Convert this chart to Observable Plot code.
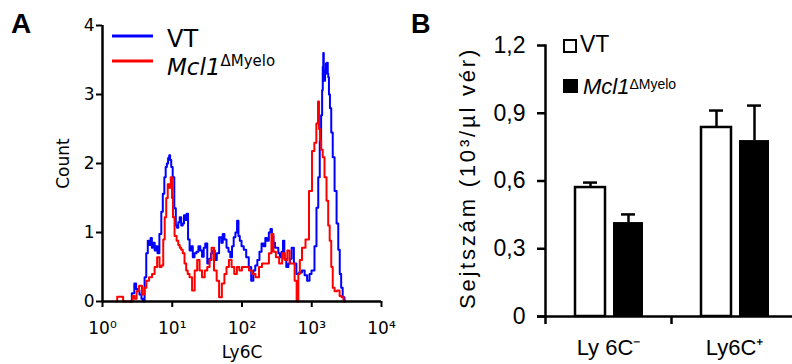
<!DOCTYPE html>
<html><head><meta charset="utf-8">
<script src="https://cdn.jsdelivr.net/npm/d3@7"></script>
<script src="https://cdn.jsdelivr.net/npm/@observablehq/plot@0.6"></script>
<style>
html,body{margin:0;padding:0;background:#fff;overflow:hidden}
#wrap{position:relative;width:792px;height:364px;background:#fff}
#a{position:absolute;left:0;top:0}
#b{position:absolute;left:400px;top:0}
#overlay{position:absolute;left:0;top:0;pointer-events:none}
</style></head><body>
<div id="wrap">
<div id="a"></div><div id="b"></div>
<svg id="overlay" width="792" height="364">
  <text x="11" y="33" font-family="Liberation Sans" font-weight="bold" font-size="28">A</text>
  <text x="411" y="33" font-family="Liberation Sans" font-weight="bold" font-size="27">B</text>
  <line x1="112" x2="153" y1="36" y2="36" stroke="#0000ff" stroke-width="3"/>
  <text x="167" y="47" font-family="DejaVu Sans" font-size="24">VT</text>
  <line x1="112" x2="153" y1="61" y2="61" stroke="#ff0000" stroke-width="3"/>
  <text x="167" y="75" font-family="DejaVu Sans" font-size="23"><tspan font-style="italic">Mcl1</tspan><tspan font-size="15" dy="-9">ΔMyelo</tspan></text>
  <rect x="564" y="40" width="12" height="12" fill="white" stroke="black" stroke-width="2"/>
  <text x="580" y="52" font-family="Liberation Sans" font-size="23">VT</text>
  <rect x="563" y="79" width="15" height="14" fill="black"/>
  <text x="583" y="94" font-family="Liberation Sans" font-size="22"><tspan font-style="italic">Mcl1</tspan><tspan font-size="14" dy="-5">ΔMyelo</tspan></text>
</svg>
</div>
<script>
// ---- Panel A: Ly6C histogram (log x) ----
const vtLy6C = [2.52,2.75,2.97,3.1,3.28,3.5,3.74,3.9,4.13,4.35,4.57,4.8,5.0,5.21,5.45,5.75,6.0,6.3,6.79,7.15,7.5,7.9,8.2,8.55,8.9,9.2,9.44,9.9,10.4,11.0,11.5,11.9,12.5,13.1,13.8,14.5,15.0,15.6,16.5,17.2,18.3,19.2,20.2,21.5,23.0,24.5,26.0,27.5,29.0,30.5,33.1,35.0,37.0,39.5,42,45,49,52,54,58,62,66,70,74,78,83,87,91,95,102,110,120,130,141,150,160,172,184,198,210,222,235,250,262,275,290,305,323,340,360,380,394,415,449,475,500,530,580,625,690,762,820,898,960,1025,1060,1130,1209,1270,1335,1390,1427,1450,1474,1500,1530,1575,1620,1683,1710,1739,1790,1858,1950,2051,2200,2340,2460,2582,2700,2853,3048];
const vtCount = [0,0.12,0.26,0.18,0.16,0.1,0.04,0,0.35,0.7,0.88,0.82,0.92,0.78,0.85,0.74,0.8,0.7,0.98,1.3,1.56,1.8,1.95,2.0,2.08,2.12,2.05,1.95,1.8,1.35,1.1,1.07,1.15,1.22,1.1,1.13,1.25,1.18,1.27,0.9,0.74,0.8,0.64,0.7,0.72,0.8,0.74,0.65,0.78,0.84,0.55,0.62,0.7,0.74,0.6,0.7,0.93,0.85,0.98,0.9,0.78,0.72,0.64,0.8,0.93,1.0,1.17,0.95,0.88,0.8,0.75,0.64,0.5,0.3,0.45,0.52,0.6,0.72,0.84,0.8,0.92,0.88,1.0,1.05,0.95,0.85,0.78,0.78,0.7,0.64,0.72,0.88,0.62,0.5,0.55,0.62,0.78,0.55,0.4,0.42,0.45,0.38,0.3,0.4,0.45,0.45,0.8,1.36,1.8,2.33,2.7,3.06,3.4,3.6,3.35,3.2,3.3,3.45,3.46,3.3,3.25,3.0,2.8,2.45,2.09,1.6,1.13,0.75,0.4,0.2,0.06,0];
const mclLy6C = [1.6,1.65,1.95,2.0,2.6,2.78,2.97,3.2,3.5,3.87,4.1,4.42,4.9,5.38,5.8,6.35,6.8,7.25,7.6,8.0,8.4,8.84,9.3,9.75,10.1,10.4,11.2,11.9,12.5,13.1,13.8,14.5,15.5,16.2,17.1,18.3,20.2,21.8,23.8,25.5,28.0,30.5,33.1,35.5,37.8,41.7,45,49,54,58,62,68,74,81,88,95,105,120,132,146,167,184,203,232,255,274,290,323,360,394,430,464,500,547,590,625,660,690,762,869,960,1060,1120,1209,1250,1290,1335,1400,1474,1575,1683,1760,1858,1950,2051,2200,2420,2600,2760,2950];
const mclCount = [0,0.07,0.07,0,0,0.08,0.04,0.15,0.23,0.1,0.2,0.3,0.35,0.4,0.5,0.64,0.5,0.52,0.9,1.22,1.5,1.7,1.65,1.8,1.5,1.22,0.95,0.88,0.82,0.78,0.75,0.7,0.55,0.45,0.4,0.35,0.16,0.45,0.6,0.45,0.35,0.45,0.5,0.6,0.78,0.45,0.3,0.06,0.26,0.4,0.5,0.6,0.5,0.4,0.5,0.45,0.5,0.5,0.45,0.4,0.35,0.5,0.55,0.55,0.7,0.98,0.72,0.64,0.55,0.7,0.6,0.74,0.55,0.55,0.3,0,0.4,0.6,0.78,0.9,1.6,2.18,2.3,2.58,2.9,2.5,2.33,2.2,2.09,1.8,1.46,1.1,0.88,0.5,0.2,0.15,0.16,0.08,0.06,0];
const xTicksA = [1, 10, 100, 1000, 10000];
const xTickLabelsA = ["10⁰", "10¹", "10²", "10³", "10⁴"];
const yTicksA = [0, 1, 2, 3, 4];

const vtData = vtLy6C.map((x, i) => ({x, y: vtCount[i]}));
const mclData = mclLy6C.map((x, i) => ({x, y: mclCount[i]}));

const plotA = Plot.plot({
  width: 400, height: 364,
  marginLeft: 102, marginRight: 19, marginTop: 25, marginBottom: 63,
  style: {fontFamily: "DejaVu Sans", fontSize: "17px", color: "black", background: "white"},
  x: {type: "log", domain: [1, 10000]},
  y: {domain: [0, 4]},
  marks: [
    Plot.line(vtData, {x: "x", y: "y", stroke: "#0000ff", strokeWidth: 2, curve: "step"}),
    Plot.line(mclData, {x: "x", y: "y", stroke: "#ff0000", strokeWidth: 2, curve: "step"}),
    Plot.ruleY([0], {stroke: "black", strokeWidth: 2.5}),
    Plot.ruleX([1], {stroke: "black", strokeWidth: 2.5}),
    Plot.axisX({ticks: xTicksA, tickFormat: (d) => xTickLabelsA[xTicksA.indexOf(d)], tickSize: 6, tickPadding: 14, strokeWidth: 2, fontSize: 17,
      label: "Ly6C", labelAnchor: "center", labelOffset: 56, labelArrow: "none"}),
    Plot.axisY({ticks: yTicksA, tickFormat: (d) => String(d), tickSize: 6, tickPadding: 2, strokeWidth: 2, fontSize: 17,
      label: "Count", labelAnchor: "center", labelOffset: 46, labelArrow: "none"})
  ]
});
document.getElementById("a").append(plotA);

// ---- Panel B: bar chart with error bars ----
const groups = ["Ly 6C⁻", "Ly6C⁺"];
const vtMean = [0.571, 0.837];
const vtErr = [0.022, 0.075];
const mclMean = [0.416, 0.779];
const mclErr = [0.036, 0.155];
const yTicksB = [0, 0.3, 0.6, 0.9, 1.2];
const yTickLabelsB = ["0", "0,3", "0,6", "0,9", "1,2"];
const yTitleB = "Sejtszám (10³/µl vér)";

const vtRows = groups.map((g, i) => ({group: g, mean: vtMean[i], top: vtMean[i] + vtErr[i]}));
const mclRows = groups.map((g, i) => ({group: g, mean: mclMean[i], top: mclMean[i] + mclErr[i]}));

const plotB = Plot.plot({
  width: 392, height: 364,
  marginLeft: 145, marginRight: 0, marginTop: 45, marginBottom: 48,
  style: {fontFamily: "Liberation Sans", fontSize: "23px", color: "black", background: "white"},
  x: {type: "band", domain: groups, range: [145, 397], padding: 0},
  y: {domain: [0, 1.2]},
  marks: [
    Plot.ruleX(vtRows, {x: "group", y1: "mean", y2: "top", dx: -18, stroke: "black", strokeWidth: 2.5}),
    Plot.tickY(vtRows, {x: "group", y: "top", insetLeft: 38, insetRight: 74, stroke: "black", strokeWidth: 2.5}),
    Plot.ruleX(mclRows, {x: "group", y1: "mean", y2: "top", dx: 20, stroke: "black", strokeWidth: 2.5}),
    Plot.tickY(mclRows, {x: "group", y: "top", insetLeft: 76, insetRight: 36, stroke: "black", strokeWidth: 2.5}),
    Plot.barY(vtRows, {x: "group", y: "mean", fill: "white", stroke: "black", strokeWidth: 2.5, insetLeft: 30, insetRight: 66}),
    Plot.barY(mclRows, {x: "group", y: "mean", fill: "black", insetLeft: 68, insetRight: 28}),
    Plot.ruleY([0], {stroke: "black", strokeWidth: 2.5, insetLeft: -8}),
    Plot.frame({anchor: "left", stroke: "black", strokeWidth: 2.5}),
    Plot.axisY({ticks: yTicksB, tickFormat: (d) => yTickLabelsB[yTicksB.indexOf(d)], tickSize: 8, tickPadding: 12, strokeWidth: 2.5, fontSize: 23, label: null}),
    Plot.text([yTitleB], {text: (d) => d, frameAnchor: "left", textAnchor: "middle", rotate: -90, dx: -78, dy: -3, fontSize: 22}),
    Plot.axisX({tickSize: 0, tickPadding: 23, fontSize: 22, label: null}),
    Plot.axisX({tickSize: 8, tickFormat: () => "", dx: -63, strokeWidth: 2.5, label: null})
  ]
});
d3.select(plotB).selectAll('g[aria-label="text"] text').style("letter-spacing", "2.8px");
document.getElementById("b").append(plotB);
</script>
</body></html>
